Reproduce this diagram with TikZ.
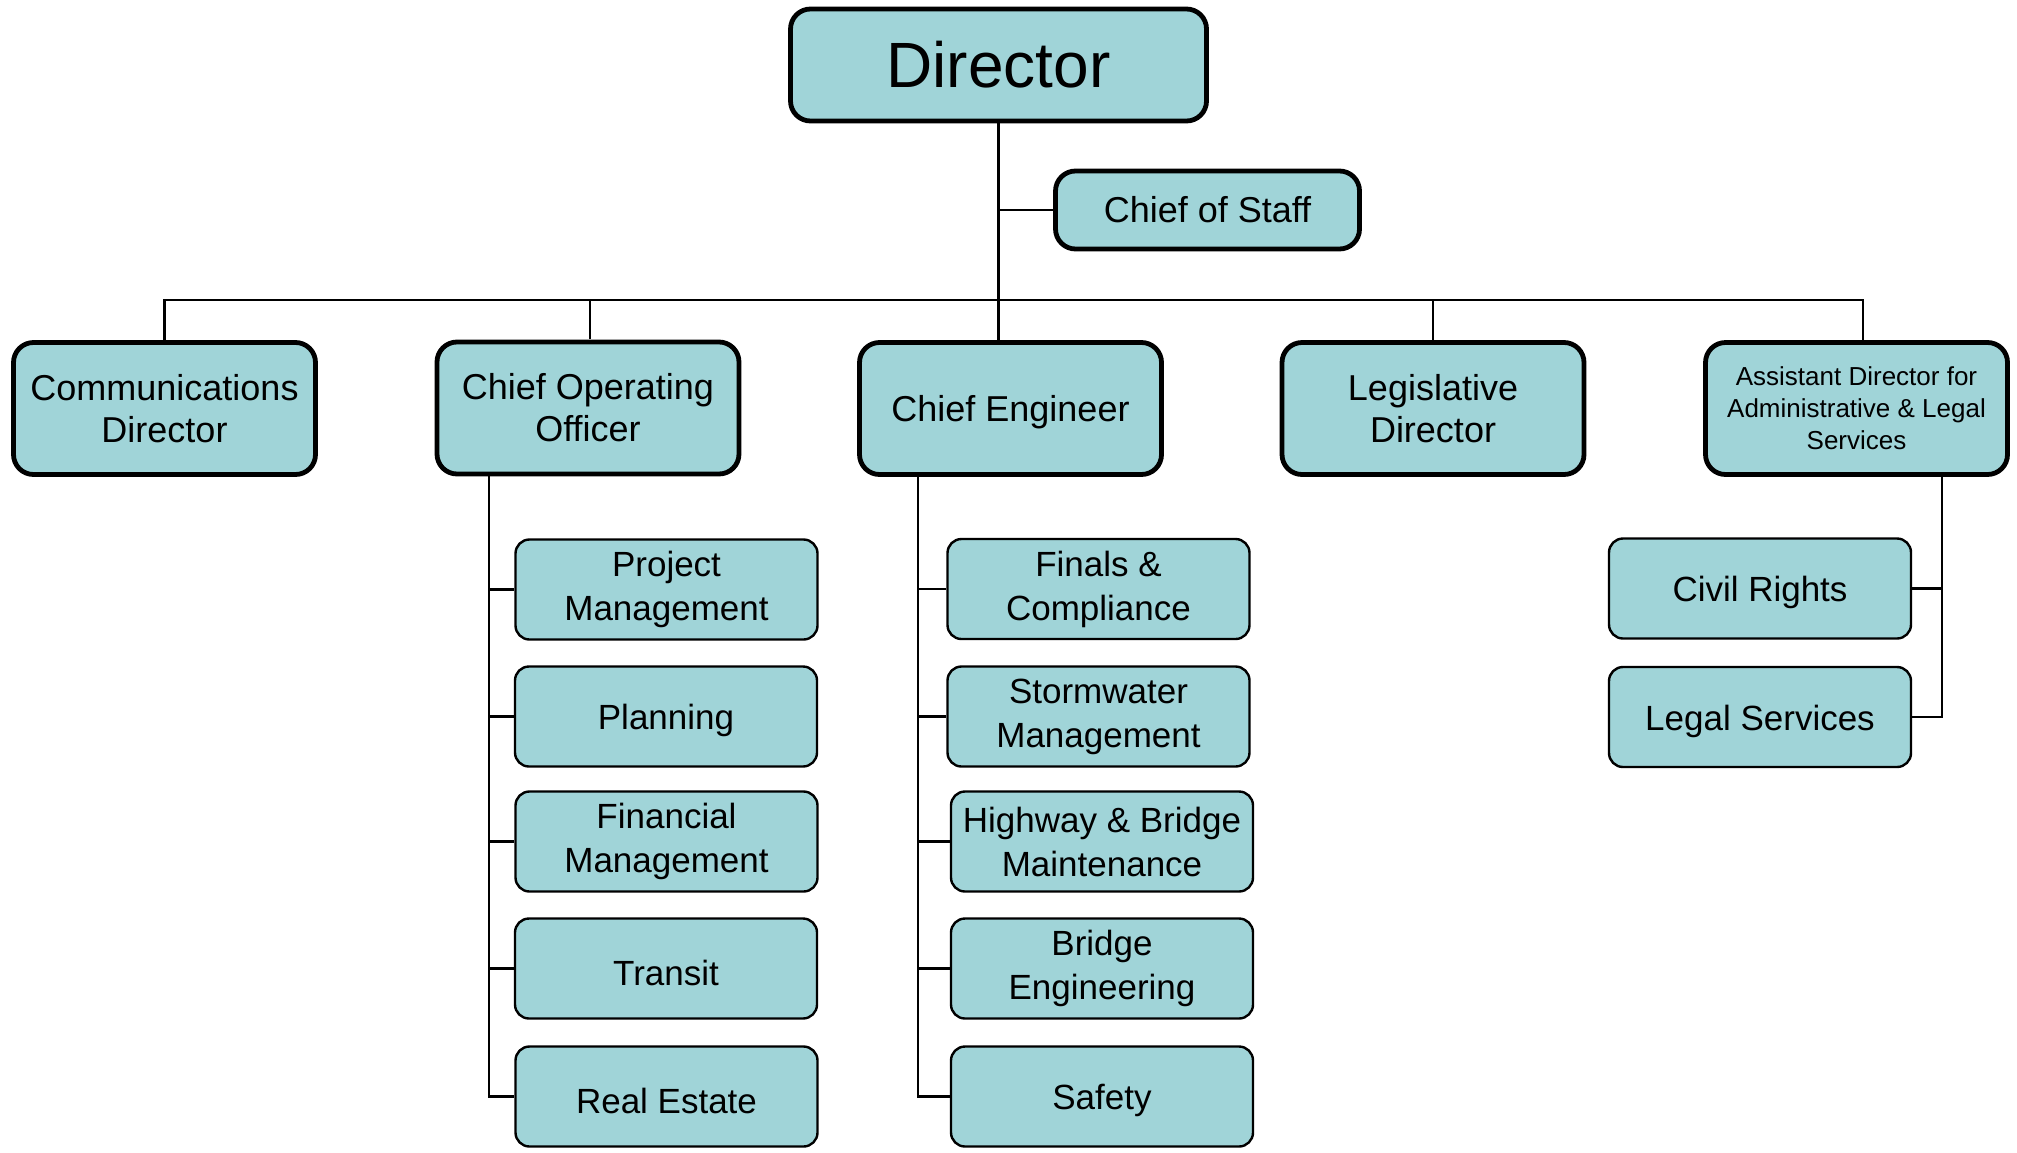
\documentclass[tikz,border=0pt]{standalone}
\usepackage{fontspec}
\setmainfont{Liberation Sans}
\definecolor{boxfill}{RGB}{160,212,216}
\newcommand{\lowtext}[1]{\raisebox{-2pt}[\height][\depth]{#1}}
\begin{document}
\begin{tikzpicture}[x=0.5pt,y=-0.5pt,
  topbox/.style={draw=black, fill=boxfill, line width=2.4pt, rounded corners=10pt,
    align=center, inner sep=0pt, minimum width=151pt, minimum height=66pt,
    font=\fontsize{18}{21}\selectfont},
  subbox/.style={draw=black, fill=boxfill, line width=1.2pt, rounded corners=7pt,
    align=center, inner sep=0pt, minimum width=151pt, minimum height=50pt,
    font=\fontsize{17.5}{22}\selectfont},
  link/.style={draw=black, line width=1.1pt}]
\useasboundingbox (0,0) rectangle (2017,1152);

% top
\node[topbox, minimum width=208pt, minimum height=56pt, font=\fontsize{32}{36}\selectfont] (dir) at (998.5,65) {Director};
\node[topbox, minimum width=152pt, minimum height=39pt] (cos) at (1207.5,210) {Chief of Staff};

% second row
\node[topbox] (comm) at (164.5,408.5) {Communications\\Director};
\node[topbox] (coo)  at (588,408) {Chief Operating\\Officer};
\node[topbox] (ce)   at (1010.5,408.5) {\lowtext{Chief Engineer}};
\node[topbox] (leg)  at (1433,408.5) {Legislative\\Director};
\node[topbox, font=\fontsize{13}{16}\selectfont] (asst) at (1856.5,408.5) {Assistant Director for\\Administrative \& Legal\\Services};

% COO children
\node[subbox] (pm)   at (666.5,589.5)  {Project\\Management};
\node[subbox] (plan) at (666,716.5)    {\lowtext{Planning}};
\node[subbox] (fin)  at (666.5,841.5)  {Financial\\Management};
\node[subbox] (tran) at (666,968.5)    {\lowtext{Transit}};
\node[subbox] (re)   at (666.5,1096.5) {\lowtext{Real Estate}};

% CE children
\node[subbox] (fc) at (1098.5,589)   {Finals \&\\Compliance};
\node[subbox] (sw) at (1098.5,716.5) {Stormwater\\Management};
\node[subbox] (hb) at (1102,841.5)   {Highway \& Bridge\\Maintenance};
\node[subbox] (be) at (1102,968.5)   {Bridge\\Engineering};
\node[subbox] (sa) at (1102,1096.5)  {\lowtext{Safety}};

% Assistant director children
\node[subbox] (cr) at (1760,588.5) {\lowtext{Civil Rights}};
\node[subbox] (ls) at (1760,717)   {\lowtext{Legal Services}};

% connector helpers
\coordinate (busy) at (0,300);
\coordinate (asTop) at (1863,341);
\coordinate (cooTop) at (590,339);
\coordinate (cooA) at (489,476);
\coordinate (ceA) at (918,476);
\coordinate (asA) at (1942,476);

% connectors
\draw[link] (dir.south) -- (dir.south |- ce.north);
\draw[link] (dir.south |- cos.west) -- (cos.west);
\draw[link] (comm.north) -- (comm.north |- busy) -- (asTop |- busy) -- (asTop);
\draw[link] (cooTop) -- (cooTop |- busy);
\draw[link] (leg.north) -- (leg.north |- busy);

\draw[link] (cooA) |- (re.west);
\draw[link] (cooA |- pm.west) -- (pm.west);
\draw[link] (cooA |- plan.west) -- (plan.west);
\draw[link] (cooA |- fin.west) -- (fin.west);
\draw[link] (cooA |- tran.west) -- (tran.west);

\draw[link] (ceA) |- (sa.west);
\draw[link] (ceA |- fc.west) -- (fc.west);
\draw[link] (ceA |- sw.west) -- (sw.west);
\draw[link] (ceA |- hb.west) -- (hb.west);
\draw[link] (ceA |- be.west) -- (be.west);

\draw[link] (asA) |- (ls.east);
\draw[link] (asA |- cr.east) -- (cr.east);
\end{tikzpicture}
\end{document}
